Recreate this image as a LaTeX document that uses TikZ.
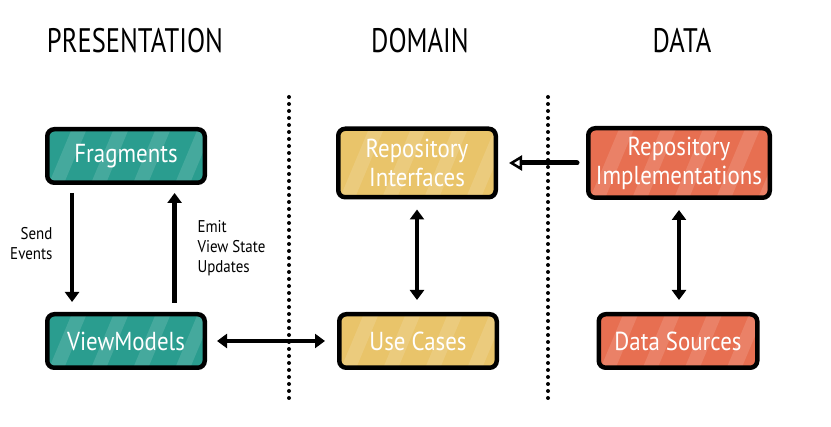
\documentclass[tikz,border=0pt]{standalone}
\usepackage{fontspec}
\usepackage{tikz}
\usetikzlibrary{calc, arrows.meta}
\newfontfamily\sketchfont[FakeStretch=0.88]{PT Sans}
\newfontfamily\headfont[FakeStretch=0.78]{PT Sans}
\definecolor{presgreen}{HTML}{2A9D8F}
\definecolor{domainyellow}{HTML}{E9C46A}
\definecolor{datared}{HTML}{E76F51}
\tikzstyle{block} = [draw=black, line width=4.5pt, rounded corners=7pt, inner sep=0pt,
    minimum width=157.5pt, minimum height=53.5pt, text=white, align=center,
    font=\sketchfont\fontsize{26}{29}\selectfont,
    path picture={
        \foreach \i in {0,...,7}
            \fill[white, opacity=0.13, sharp corners]
                ([xshift=\i*42pt-40pt]path picture bounding box.south west)
                -- ++(15pt,0pt) -- ++(36pt,86pt) -- ++(-15pt,0pt) -- cycle;
    }]
\tikzstyle{presbox} = [block, fill=presgreen]
\tikzstyle{domainbox} = [block, fill=domainyellow]
\tikzstyle{databox} = [block, fill=datared]
\tikzstyle{layer} = [font=\headfont\fontsize{34}{34}\selectfont]
\tikzstyle{note} = [font=\sketchfont\fontsize{17}{20}\selectfont]
\tikzstyle{link} = [line width=4.5pt, >={Triangle[length=10pt,width=14pt]}]
\tikzstyle{dots} = [line width=4pt, line cap=round, dash pattern=on 0pt off 7pt]

\begin{document}
\begin{tikzpicture}[x=1pt, y=-1pt]
        \useasboundingbox (0,0) rectangle (831,427);
        % layer titles
        \node (presentation) [layer] at (135,41) {PRESENTATION};
        \node (domaintitle) [layer] at (420,41) {DOMAIN};
        \node (datatitle) [layer] at (682,41) {DATA};
        % layer borders
        \coordinate (split1 top) at (289,97);
        \coordinate (split1 bottom) at (289,403);
        \coordinate (split2 top) at (548,97);
        \coordinate (split2 bottom) at (548,403);
        \draw [dots] (split1 top) -- (split1 bottom);
        \draw [dots] (split2 top) -- (split2 bottom);
        % boxes
        \node (frag) [presbox] at (126,156) {Fragments};
        \node (vm) [presbox] at (126,341) {ViewModels};
        \node (repoif) [domainbox, minimum height=68.5pt] at (417,163) {Repository\\Interfaces};
        \node (usecases) [domainbox] at (418,341) {Use Cases};
        \node (repoimpl) [databox, minimum width=181.5pt, minimum height=69.5pt] at (679,163) {Repository\\Implementations};
        \node (sources) [databox, minimum width=158.5pt] at (678,341) {Data Sources};
        % arrows
        \draw [link, ->, shorten <=8pt, shorten >=10pt]
            ($(frag.south west)!0.167!(frag.south east)$) -- ($(vm.north west)!0.167!(vm.north east)$);
        \draw [link, ->, shorten <=9pt, shorten >=8pt]
            ($(vm.north west)!0.8!(vm.north east)$) -- ($(frag.south west)!0.8!(frag.south east)$);
        \draw [link, <->, line width=3.5pt, shorten <=10pt, shorten >=12pt] (vm.east) -- (usecases.west);
        \draw [link, <->, shorten <=10pt, shorten >=12pt] (repoif.south) -- (repoif.south |- usecases.north);
        \draw [link, <->, shorten <=10pt, shorten >=12pt] (repoimpl.south) -- (repoimpl.south |- sources.north);
        \draw [line width=5pt, line cap=round, shorten <=9pt, shorten >=11pt,
            -{Triangle[length=13pt,width=15pt,fill=white,line width=2.5pt]}]
            (repoimpl.west) -- (repoif.east |- repoimpl.west);
        % arrow labels
        \node (send) [note, align=right, anchor=east] at (56,244) {Send\\Events};
        \node (emit) [note, align=left, anchor=west] at (194,248) {Emit\\View State\\Updates};
    \end{tikzpicture}
\end{document}
